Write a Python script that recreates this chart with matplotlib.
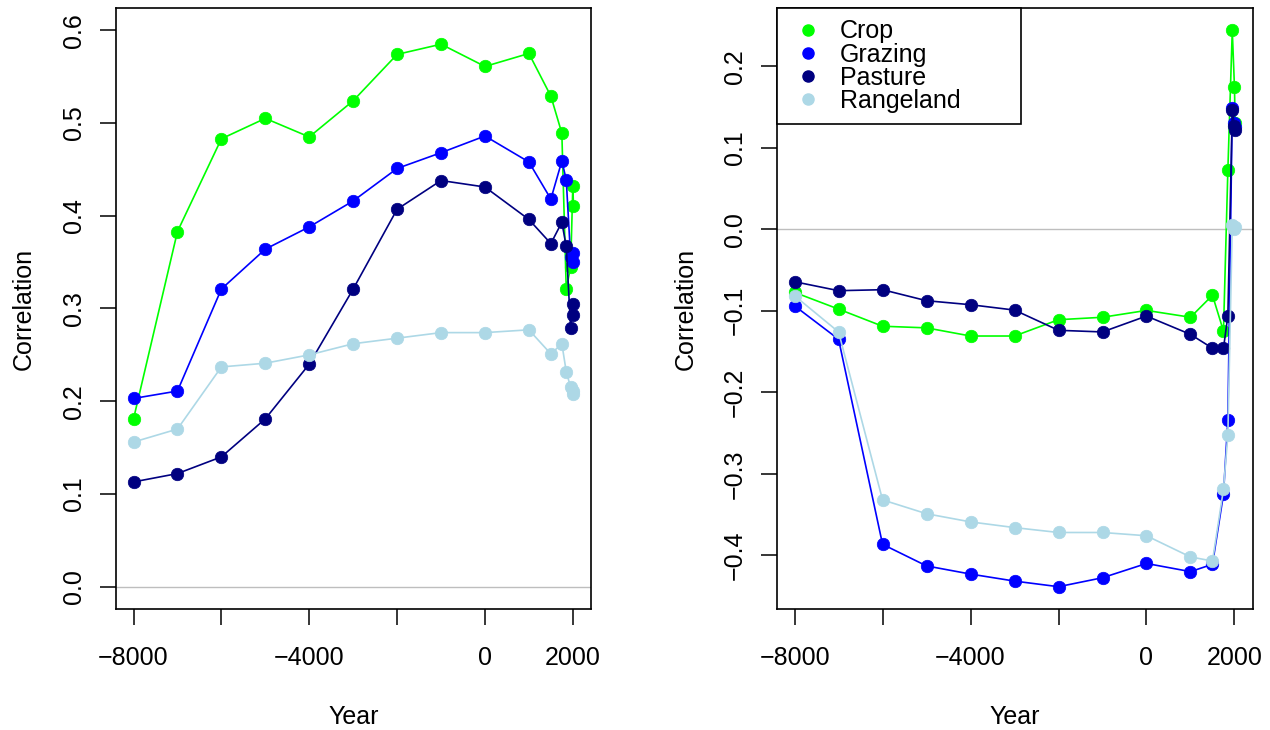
import matplotlib
matplotlib.use("Agg")
import matplotlib.pyplot as plt
from matplotlib.lines import Line2D

plt.rcParams['font.family'] = ['Liberation Sans', 'DejaVu Sans']
plt.rcParams['font.size'] = 18

# years sampled (BC negative)
years = [-8000, -7000, -6000, -5000, -4000, -3000, -2000, -1000, 0, 1000,
         1500, 1750, 1850, 1950, 2000, 2015]

# left panel
crop_l = [0.181, 0.383, 0.483, 0.505, 0.485, 0.524, 0.574, 0.585, 0.561, 0.575,
          0.529, 0.489, 0.321, 0.345, 0.432, 0.411]
grazing_l = [0.203, 0.211, 0.321, 0.364, 0.388, 0.416, 0.451, 0.468, 0.486, 0.458,
             0.418, 0.459, 0.439, 0.355, 0.360, 0.350]
pasture_l = [0.113, 0.122, 0.140, 0.181, 0.240, 0.321, 0.407, 0.438, 0.431, 0.396,
             0.370, 0.393, 0.367, 0.279, 0.305, 0.293]
range_l = [0.156, 0.170, 0.237, 0.241, 0.250, 0.262, 0.268, 0.274, 0.274, 0.277,
           0.251, 0.262, 0.232, 0.215, 0.211, 0.208]

# right panel
crop_r = [-0.0775, -0.098, -0.119, -0.121, -0.131, -0.131, -0.111, -0.108, -0.0996, -0.108,
          -0.081, -0.125, 0.073, 0.244, 0.174, 0.130]
grazing_r = [-0.094, -0.135, -0.3865, -0.413, -0.423, -0.4316, -0.4385, -0.4275, -0.410, -0.420,
             -0.411, -0.325, -0.234, 0.149, 0.130, 0.125]
pasture_r = [-0.0644, -0.0754, -0.0742, -0.0877, -0.0926, -0.0992, -0.124, -0.126, -0.1065, -0.129,
             -0.146, -0.146, -0.106, 0.146, 0.127, 0.122]
range_r = [-0.0816, -0.126, -0.332, -0.349, -0.359, -0.366, -0.372, -0.372, -0.376, -0.402,
           -0.407, -0.319, -0.252, 0.005, 0.000, 0.003]

names = ['Crop', 'Grazing', 'Pasture', 'Rangeland']
colors = ['#00FF00', '#0000FF', '#000080', '#ADD8E6']

xticks = [-8000, -6000, -4000, -2000, 0, 2000]
xticklabels = ['\u22128000', '', '\u22124000', '', '0', '2000']


def draw_panel(ax, series, yticks):
    ax.axhline(0, color='#BEBEBE', lw=1.0, zorder=1)
    for vals, c in zip(series, colors):
        ax.plot(years, vals, color=c, lw=1.2, marker='o', markersize=9,
                markeredgecolor=c, markeredgewidth=0.5, zorder=2)
    ax.set_xticks(xticks)
    ax.set_xticklabels(xticklabels)
    ax.set_yticks(yticks)
    ax.set_yticklabels([('%.1f' % t).replace('-', '\u2212') for t in yticks],
                       rotation=90, va='center')
    ax.tick_params(direction='out', length=11.5, width=1.1)
    ax.tick_params(axis='x', pad=15)
    ax.tick_params(axis='y', pad=10)
    for s in ax.spines.values():
        s.set_linewidth(1.2)
    ax.set_xlabel('Year')
    ax.set_ylabel('Correlation')
    ax.xaxis.set_label_coords(0.5, -0.16)
    ax.yaxis.set_label_coords(-0.168, 0.5)


fig = plt.figure(figsize=(12.7, 7.3), dpi=100)
ax1 = fig.add_axes([0.0913, 0.1658, 0.3741, 0.8232])
ax2 = fig.add_axes([0.6118, 0.1658, 0.3746, 0.8232])

draw_panel(ax1, [crop_l, grazing_l, pasture_l, range_l], [0.0, 0.1, 0.2, 0.3, 0.4, 0.5, 0.6])
ax1.set_xlim(-8400, 2415)
ax1.set_ylim(-0.024, 0.624)

draw_panel(ax2, [crop_r, grazing_r, pasture_r, range_r], [-0.4, -0.3, -0.2, -0.1, 0.0, 0.1, 0.2])
ax2.set_xlim(-8400, 2415)
lo = min(min(grazing_r), min(range_r))
hi = max(crop_r)
pad = (hi - lo) * 0.04
ax2.set_ylim(lo - pad, hi + pad)
ax2.yaxis.set_label_coords(-0.166, 0.5)

handles = [Line2D([], [], ls='none', marker='o', color=c, markersize=8) for c in colors]
leg = ax2.legend(handles, names, loc='upper left', bbox_to_anchor=(0, 1, 0.513, 0),
                 mode='expand', borderaxespad=0, fancybox=False, framealpha=1,
                 edgecolor='black', handlelength=1.6, handletextpad=0.48,
                 labelspacing=-0.03, borderpad=0.45, fontsize=18)
leg.get_frame().set_linewidth(1.2)

fig.savefig('out.png', dpi=100)
